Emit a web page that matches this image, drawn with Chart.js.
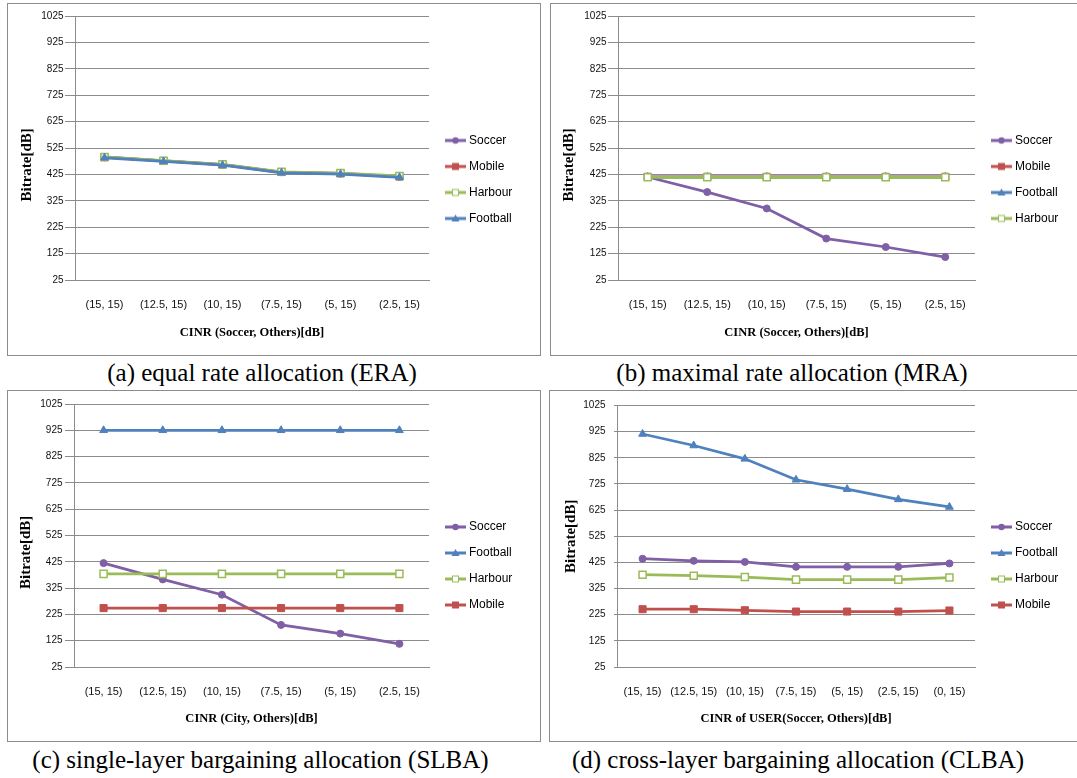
<!DOCTYPE html>
<html>
<head>
<meta charset="utf-8">
<script src="https://cdn.jsdelivr.net/npm/chart.js@4.4.1/dist/chart.umd.min.js"></script>
<style>
  body { margin: 0; background: #fff; width: 1077px; height: 778px; overflow: hidden; position: relative; }
  .box { position: absolute; border: 1px solid #8c8c8c; box-sizing: border-box; }
  .box canvas { position: absolute; left: 0; top: 0; }
  .cap { position: absolute; font: 25px "Liberation Serif", "Times New Roman", serif; white-space: nowrap; transform: translate(-50%, -50%); color: #000; }
</style>
</head>
<body>
<script>
// ---------------- Data ----------------
const cinr6 = ["(15, 15)", "(12.5, 15)", "(10, 15)", "(7.5, 15)", "(5, 15)", "(2.5, 15)"];
const cinr7 = ["(15, 15)", "(12.5, 15)", "(10, 15)", "(7.5, 15)", "(5, 15)", "(2.5, 15)", "(0, 15)"];
const yTicks = [25, 125, 225, 325, 425, 525, 625, 725, 825, 925, 1025];

// (a) ERA
const eraSoccer = [490, 476, 462, 433, 428, 416];
const eraMobile = [490, 476, 462, 434, 429, 417];
const eraHarbour = [491, 477, 463, 435, 430, 419];
const eraFootball = [488, 474, 460, 431, 426, 414];

// (b) MRA
const mraSoccer = [415, 358, 296, 182, 150, 112];
const mraMobile = [416, 416, 416, 416, 416, 416];
const mraFootball = [415, 415, 415, 415, 415, 415];
const mraHarbour = [414, 414, 414, 414, 414, 414];

// (c) SLBA
const slbaSoccer = [420, 358, 300, 185, 152, 113];
const slbaFootball = [925, 925, 925, 925, 925, 925];
const slbaHarbour = [379, 379, 379, 379, 379, 379];
const slbaMobile = [249, 249, 249, 249, 249, 249];

// (d) CLBA
const clbaSoccer = [439, 431, 427, 408, 408, 408, 421];
const clbaFootball = [916, 872, 821, 741, 705, 666, 637];
const clbaHarbour = [378, 374, 369, 359, 359, 359, 367];
const clbaMobile = [246, 246, 242, 237, 237, 237, 241];

// ---------------- Styles ----------------
const GRID = "#8c8c8c";
const styles = {
  Soccer:   { color: "#7f5fa5", point: "circle",   r: 3.5, fill: "#7f5fa5" },
  Mobile:   { color: "#c0504d", point: "rect",     r: 5,   fill: "#c0504d" },
  Harbour:  { color: "#9bbb59", point: "rect",     r: 5,   fill: "#ffffff" },
  Football: { color: "#4f81bd", point: "triangle", r: 4.5, fill: "#4f81bd" },
};

// little line+marker picture for the legend
function legendMark(name) {
  const s = styles[name];
  const c = document.createElement("canvas");
  c.width = 26; c.height = 10;
  const g = c.getContext("2d");
  g.strokeStyle = s.color; g.lineWidth = 3;
  g.beginPath(); g.moveTo(5, 5); g.lineTo(26, 5); g.stroke();
  const cx = 15.5, cy = 5;
  g.fillStyle = s.fill; g.lineWidth = 1;
  if (s.point === "circle") {
    g.beginPath(); g.arc(cx, cy, 3.2, 0, Math.PI * 2); g.fill();
  } else if (s.point === "triangle") {
    g.beginPath(); g.moveTo(cx, cy - 4); g.lineTo(cx + 4, cy + 3); g.lineTo(cx - 4, cy + 3); g.closePath(); g.fill();
  } else {
    g.fillRect(cx - 3.5, cy - 3.5, 7, 7);
    if (s.fill === "#ffffff") { g.strokeRect(cx - 3, cy - 3, 6, 6); }
  }
  return c;
}

function panel(p) {
  const box = document.createElement("div");
  box.className = "box";
  Object.assign(box.style, { left: p.x + "px", top: p.y + "px", width: p.w + "px", height: p.h + "px" });
  const cv = document.createElement("canvas");
  cv.width = p.w - 2; cv.height = p.h - 2;
  box.appendChild(cv);
  document.body.appendChild(box);

  const cap = document.createElement("div");
  cap.className = "cap";
  cap.style.left = p.capX + "px"; cap.style.top = p.capY + "px";
  cap.textContent = p.caption;
  document.body.appendChild(cap);

  const legendW = cv.width - p.chartR;
  const n = p.series.length;
  // legend: fixed width, centred on the whole canvas height
  const fixLegend = {
    id: "fixLegend",
    afterInit(chart) {
      const lg = chart.legend, fit = lg.fit;
      lg.fit = function () { fit.call(this); this.width = legendW; };
    },
    afterLayout(chart) {
      chart.legend.top -= p.chartT / 2;
      chart.legend.bottom -= p.chartT / 2;
    },
  };

  new Chart(cv, {
    type: "line",
    data: {
      labels: p.labels,
      datasets: p.series.map(([name, vals], i) => {
        const s = styles[name];
        return {
          label: name, data: vals, order: n - i,
          borderColor: s.color, backgroundColor: s.color, borderWidth: 2.75, tension: 0, fill: false,
          pointStyle: s.point, pointRadius: s.r, pointBackgroundColor: s.fill,
          pointBorderColor: s.color, pointBorderWidth: s.fill === "#ffffff" ? 1.5 : 1,
        };
      }),
    },
    plugins: [fixLegend],
    options: {
      responsive: false, animation: false, events: [],
      layout: { padding: { top: p.chartT, left: 0, right: 0, bottom: 0 } },
      plugins: {
        tooltip: { enabled: false },
        legend: {
          position: "right",
          labels: {
            usePointStyle: true, pointStyleWidth: 20, padding: 14, color: "#000",
            font: { family: "Liberation Sans", size: 12 },
            generateLabels: (chart) => chart.data.datasets.map((d, i) => ({
              text: d.label, pointStyle: legendMark(d.label), fillStyle: d.borderColor,
              strokeStyle: d.borderColor, lineWidth: 0, hidden: false, datasetIndex: i, fontColor: "#000",
            })),
          },
        },
      },
      scales: {
        x: {
          offset: true,
          grid: { display: false, drawTicks: false },
          border: { display: true, color: GRID, width: 1 },
          ticks: { color: "#111", padding: 18.4, maxRotation: 0, font: { family: "Liberation Sans", size: 11 } },
          title: {
            display: true, text: p.xTitle, color: "#000", padding: { top: 0, bottom: 14.5 },
            font: { family: "Liberation Serif", size: 12.5, weight: "bold" },
          },
          afterFit: (s) => { s.height = p.xH; },
        },
        y: {
          min: 25, max: 1025,
          afterBuildTicks: (s) => { s.ticks = yTicks.map((v) => ({ value: v })); },
          grid: { color: GRID, lineWidth: 1, drawTicks: true, tickLength: p.tick },
          border: { display: true, color: GRID, width: 1 },
          ticks: {
            color: "#111", padding: 11.5 - p.tick, font: { family: "Liberation Sans", size: 10 },
            callback: (v) => String(v),
          },
          title: {
            display: true, text: "Bitrate[dB]" + " ".repeat(p.ySpaces), color: "#000",
            padding: { top: p.yTitleX - 9, bottom: 0 },
            font: { family: "Liberation Serif", size: 15, weight: "bold" },
          },
          afterFit: (s) => { s.width = p.chartL; },
        },
      },
    },
  });
}

panel({
  x: 7, y: 3, w: 534, h: 353, chartL: 67, chartT: 12, chartR: 421, xH: 75, tick: 10, yTitleX: 18.7, ySpaces: 9,
  labels: cinr6, xTitle: "CINR (Soccer, Others)[dB]",
  series: [["Soccer", eraSoccer], ["Mobile", eraMobile], ["Harbour", eraHarbour], ["Football", eraFootball]],
  caption: "(a) equal rate allocation (ERA)", capX: 262, capY: 373,
});
panel({
  x: 550, y: 3, w: 540, h: 353, chartL: 67, chartT: 12, chartR: 424, xH: 75, tick: 10, yTitleX: 18, ySpaces: 9,
  labels: cinr6, xTitle: "CINR (Soccer, Others)[dB]",
  series: [["Soccer", mraSoccer], ["Mobile", mraMobile], ["Football", mraFootball], ["Harbour", mraHarbour]],
  caption: "(b) maximal rate allocation (MRA)", capX: 792, capY: 373,
});
panel({
  x: 7, y: 390, w: 534, h: 352, chartL: 66, chartT: 13, chartR: 421, xH: 74, tick: 9, yTitleX: 18, ySpaces: 9,
  labels: cinr6, xTitle: "CINR (City, Others)[dB]",
  series: [["Soccer", slbaSoccer], ["Football", slbaFootball], ["Harbour", slbaHarbour], ["Mobile", slbaMobile]],
  caption: "(c) single-layer bargaining allocation (SLBA)", capX: 260.5, capY: 760,
});
panel({
  x: 549, y: 390, w: 540, h: 352, chartL: 67, chartT: 13, chartR: 425, xH: 74, tick: 3, yTitleX: 20.7, ySpaces: 0,
  labels: cinr7, xTitle: "CINR of USER(Soccer, Others)[dB]",
  series: [["Soccer", clbaSoccer], ["Football", clbaFootball], ["Harbour", clbaHarbour], ["Mobile", clbaMobile]],
  caption: "(d) cross-layer bargaining allocation (CLBA)", capX: 798, capY: 760,
});
</script>
</body>
</html>
